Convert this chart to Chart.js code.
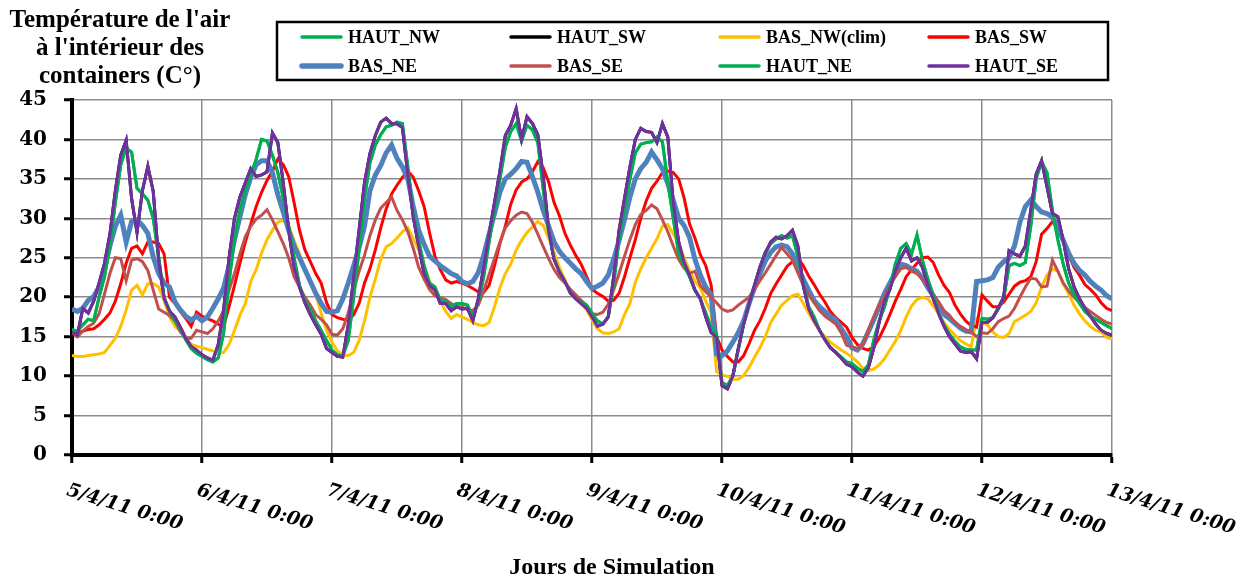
<!DOCTYPE html>
<html lang="fr">
<head>
<meta charset="utf-8">
<script src="https://cdn.jsdelivr.net/npm/chart.js@4.4.1/dist/chart.umd.min.js"></script>
<style>
html,body{margin:0;padding:0;background:#ffffff;}
#wrap{width:1250px;height:581px;}
</style>
</head>
<body>
<div id="wrap"><canvas id="c" width="1250" height="581"></canvas></div>
<script>
// ---- text ----
const titleLines = ["Température de l'air", "à l'intérieur des", "containers (C°)"];
const xTitle = "Jours de Simulation";
const tickLabels = ['5/4/11 0:00','6/4/11 0:00','7/4/11 0:00','8/4/11 0:00','9/4/11 0:00','10/4/11 0:00','11/4/11 0:00','12/4/11 0:00','13/4/11 0:00'];
const seriesNames = ['HAUT_NW','HAUT_SW','BAS_NW(clim)','BAS_SW','BAS_NE','BAS_SE','HAUT_NE','HAUT_SE'];

// ---- hourly values (°C), 5/4/11 0:00 -> 13/4/11 0:00 ----
const basNW = [
12.6,12.5,12.5,12.6,12.7,12.8,13.0,13.9,14.8,16.3,18.4,20.9,21.5,20.3,21.7,21.7,21.3,19.6,17.5,16.3,15.7,15.0,14.0,13.8,
13.6,13.4,13.2,13.0,13.0,14.0,15.8,17.7,19.2,22.0,23.5,25.6,27.3,28.5,29.5,29.8,29.0,27.2,25.5,23.5,21.8,20.3,18.0,15.8,
14.3,13.2,12.7,12.6,13.0,14.5,17.0,20.0,22.3,24.8,26.4,26.8,27.5,28.3,28.8,27.4,26.0,24.0,22.0,20.7,19.5,18.2,17.3,17.8,
17.5,17.2,16.8,16.5,16.4,16.8,18.8,21.2,23.0,24.2,26.0,27.2,28.2,28.9,29.6,29.1,27.5,25.7,23.8,22.2,20.7,19.8,19.2,18.4,
17.1,16.0,15.5,15.4,15.6,16.0,17.8,19.2,21.9,23.6,25.0,26.2,27.4,29.0,29.2,28.0,26.8,25.0,23.4,22.0,21.2,19.5,18.0,10.6,
10.1,10.0,9.6,9.6,10.1,11.1,12.4,13.6,15.0,16.8,17.9,19.0,19.6,20.2,20.4,19.2,18.0,16.8,15.8,15.0,14.3,13.8,13.3,12.9,
12.4,11.8,11.0,10.7,10.9,11.4,12.2,13.3,14.4,15.8,17.5,18.9,19.7,20.0,19.8,18.9,17.9,16.8,15.9,15.2,14.5,14.1,13.7,17.3,
16.9,16.5,15.6,15.0,14.9,15.4,16.9,17.3,17.7,18.2,19.3,21.3,22.8,23.6,23.3,21.7,20.4,19.0,17.9,17.0,16.3,15.8,15.6,14.9,14.7
];
const basSW = [
15.5,15.5,15.7,15.9,16.0,16.5,17.2,18.0,19.5,21.7,24.3,26.2,26.5,25.5,27.0,27.0,26.8,25.5,20.0,19.2,18.2,17.3,16.3,18.1,
17.6,17.3,17.0,16.6,16.3,18.8,21.5,24.3,27.0,29.3,31.5,33.3,34.8,36.0,37.5,36.8,35.3,32.0,28.5,26.0,24.5,23.0,21.8,19.3,
17.8,17.4,17.2,17.1,17.8,19.2,21.8,23.6,26.0,28.8,31.2,33.1,34.2,35.2,36.0,35.2,33.5,31.5,28.2,25.2,23.5,22.2,21.8,22.0,
21.8,21.5,21.1,20.7,20.6,21.5,24.0,26.8,29.0,31.8,33.6,34.6,35.0,35.9,37.2,36.4,34.6,32.0,30.3,28.1,26.6,25.3,24.2,22.6,
21.0,20.5,20.1,19.5,19.6,20.5,22.6,25.0,27.3,30.0,32.2,33.8,34.7,35.8,36.0,35.8,35.0,32.6,29.3,27.5,25.4,24.0,21.5,15.0,
13.3,12.5,11.8,11.8,12.6,14.1,15.8,17.0,18.6,20.5,21.7,22.8,23.9,24.5,25.0,24.0,22.7,21.6,20.4,19.4,18.2,17.4,16.8,16.2,
14.9,14.0,13.5,13.3,13.7,14.8,16.2,17.8,19.5,21.0,22.6,23.5,24.3,25.0,25.1,24.4,22.8,21.5,20.6,19.0,17.9,17.0,16.4,16.2,
20.3,19.5,18.8,18.8,19.4,20.4,21.4,21.9,22.1,22.6,24.5,28.0,28.7,29.6,28.6,27.0,25.3,23.8,22.8,21.6,21.0,20.3,19.3,18.6,18.3
];
const basNE = [
18.5,18.2,18.6,19.6,20.1,21.3,23.6,26.5,29.0,30.4,27.0,29.6,29.8,29.1,28.1,25.1,23.0,21.8,21.3,19.4,18.4,17.6,17.1,17.6,
17.0,17.5,18.6,19.8,21.2,24.0,27.3,30.2,33.0,35.2,36.8,37.3,37.3,35.8,33.0,30.8,28.5,26.5,25.0,23.5,22.0,20.5,19.2,18.2,
18.1,18.3,19.8,21.8,24.0,26.3,29.0,33.5,35.5,36.7,38.3,39.3,37.6,36.5,35.0,31.5,28.5,26.7,25.2,24.6,24.0,23.5,23.0,22.7,
22.0,21.7,22.0,23.1,25.3,28.0,30.6,33.3,35.0,35.6,36.3,37.2,37.1,35.3,33.3,31.0,29.0,27.0,25.8,25.0,24.3,23.6,23.0,22.0,
21.1,21.4,21.8,22.8,24.8,27.2,29.8,32.7,35.0,36.3,37.1,38.4,37.4,36.3,34.4,32.3,30.0,29.1,27.6,24.8,22.8,21.3,20.3,12.8,
12.6,13.2,14.3,15.5,17.0,19.2,21.2,23.0,24.6,25.7,26.4,26.6,26.4,25.5,23.9,22.3,20.9,19.6,18.8,18.2,17.6,17.1,16.0,15.0,
13.6,13.3,14.1,15.6,17.1,18.8,20.5,21.8,23.1,24.2,24.0,23.6,23.3,22.4,21.2,20.2,19.0,17.8,17.3,16.7,16.1,15.7,15.6,22.0,
22.1,22.2,22.5,23.8,24.5,25.0,26.5,29.5,31.5,32.3,31.5,30.8,30.6,30.2,28.8,27.2,25.6,24.3,23.4,22.8,22.0,21.4,20.9,20.2,19.8
];
const basSE = [
15.5,15.0,15.7,16.3,16.7,17.9,20.4,23.0,25.0,24.9,22.1,24.7,24.9,24.5,23.4,20.9,18.5,18.1,17.7,17.0,15.6,14.8,14.8,15.8,
15.6,15.4,16.0,17.0,18.3,20.9,23.0,25.5,27.7,29.0,29.9,30.4,31.1,29.8,28.3,26.8,25.0,22.6,21.3,20.0,19.0,17.8,17.2,16.5,
15.3,15.2,16.0,18.0,20.8,23.3,25.3,27.8,29.8,31.3,32.0,32.7,31.0,29.8,28.3,26.2,23.8,22.3,21.0,20.2,19.9,19.7,19.2,18.8,
18.8,18.4,18.3,19.0,20.8,22.9,24.9,27.0,28.8,29.7,30.4,30.8,30.6,29.5,28.0,26.4,24.9,23.5,22.5,21.8,21.0,20.3,19.6,19.0,
17.9,17.8,18.1,19.1,20.9,23.0,25.2,27.3,29.2,30.5,31.0,31.7,31.2,29.8,28.3,26.5,24.8,23.7,23.0,23.3,21.5,20.7,20.0,19.3,
18.5,18.2,18.4,19.0,19.5,20.0,21.0,22.1,23.1,24.2,25.3,26.3,25.5,24.7,23.1,21.5,20.3,19.3,18.3,17.6,17.1,16.6,15.5,13.9,
13.7,13.5,14.0,15.8,17.5,19.0,20.0,21.5,22.6,23.6,23.8,23.3,23.0,22.3,21.3,20.3,19.4,18.3,17.7,16.8,16.3,15.9,15.6,15.0,
15.5,15.4,16.0,16.9,17.3,17.6,18.6,20.0,21.3,22.4,22.3,21.3,21.4,24.7,23.3,21.8,20.8,20.0,19.3,18.7,18.2,17.7,17.2,16.8,16.6
];
const hautNE = [
15.9,15.7,16.5,17.2,17.0,20.0,22.6,26.5,32.0,36.8,38.9,38.4,33.8,33.1,32.3,30.0,25.1,20.0,18.3,17.0,16.0,14.6,13.5,12.9,
12.5,12.1,11.8,12.3,15.5,22.0,27.3,31.0,33.5,35.5,37.5,40.0,39.8,38.0,35.8,32.6,29.0,25.0,21.5,19.6,18.5,17.0,15.8,14.5,
13.3,12.7,12.6,14.5,20.0,26.0,32.5,37.0,39.3,40.6,41.6,41.8,42.2,42.0,36.5,30.6,27.2,24.0,21.8,21.3,19.6,19.5,18.8,19.2,
19.2,19.0,17.6,19.3,22.6,27.0,31.0,35.0,39.0,41.0,42.0,39.8,41.8,41.2,39.6,33.6,28.2,24.9,23.2,22.0,20.5,19.8,19.4,19.0,
18.0,17.0,16.6,17.5,21.7,27.3,31.3,35.0,38.3,39.4,39.6,39.7,40.3,39.7,34.5,30.0,25.5,24.0,22.6,20.9,19.8,18.0,16.2,15.3,
9.2,8.8,10.0,13.3,16.6,19.2,21.5,23.8,25.7,26.8,27.4,27.8,27.5,27.8,25.2,21.8,18.8,17.5,15.8,14.7,13.6,13.0,12.4,11.8,
11.6,11.0,10.6,11.4,14.5,17.0,18.8,21.2,24.2,26.2,26.8,25.5,27.9,24.7,22.3,20.3,18.0,16.5,15.3,14.4,13.7,13.4,13.3,13.3,
17.3,17.2,17.4,18.5,19.8,24.0,24.3,24.0,24.4,29.0,35.0,37.2,35.8,31.0,27.3,24.2,21.8,20.3,19.2,18.2,17.6,17.2,16.8,16.4,16.0
];
const hautSE = [
15.6,15.2,18.6,18.0,19.5,21.8,24.3,28.0,33.5,38.0,39.9,32.5,28.2,33.5,36.6,33.4,24.7,19.8,18.2,17.5,16.2,14.8,13.8,13.3,
12.7,12.3,12.0,14.0,18.5,25.0,30.0,32.7,34.5,36.3,35.3,35.5,35.9,40.8,39.6,34.5,28.5,23.8,21.3,19.3,17.8,16.5,15.3,13.5,
13.0,12.5,12.4,16.5,22.5,28.5,34.5,38.2,40.5,42.2,42.7,42.0,42.0,41.5,35.5,30.2,26.4,23.0,21.5,20.9,19.2,19.2,18.3,18.8,
18.5,18.6,17.0,19.8,23.8,28.0,32.0,36.0,40.5,41.8,43.9,40.0,42.9,42.0,40.6,35.3,28.5,24.8,23.2,22.0,20.6,19.8,19.2,18.6,
17.5,16.3,16.6,17.5,22.6,28.5,32.5,36.5,40.0,41.4,41.0,40.9,39.6,42.0,40.3,32.0,27.0,24.5,22.8,20.9,19.8,17.5,15.5,14.9,
8.8,8.4,10.0,13.5,16.6,19.2,21.5,23.8,25.6,27.0,27.6,27.4,27.8,28.5,26.5,21.5,18.5,17.0,15.8,14.6,13.6,13.0,12.3,11.5,
11.2,10.5,10.0,11.0,13.5,16.8,19.5,21.0,23.3,25.0,26.2,24.6,25.0,23.8,21.5,19.8,17.9,16.3,15.0,14.1,13.2,13.0,13.1,12.2,
16.8,16.8,17.4,18.6,20.0,25.9,25.5,25.2,26.5,31.0,35.6,37.3,34.0,30.6,30.2,27.2,23.6,21.3,19.8,18.6,17.6,16.6,15.8,15.4,15.2
];
// HAUT_NW coincides with HAUT_NE (same green); HAUT_SW (black) lies hidden under HAUT_SE
const hautNW = hautNE.slice();
const hautSW = hautSE.slice();

// ---- styles ----
const seriesValues = [hautNW, hautSW, basNW, basSW, basNE, basSE, hautNE, hautSE];
const seriesColors = ['#00B050','#000000','#FFC000','#FF0000','#4F81BD','#C0504D','#00B050','#7030A0'];
const seriesWidths = [3,3,3,3,5,3,3,3];
const FONT = "'Liberation Serif', 'DejaVu Serif', serif";
const NUMFONT = "'DejaVu Serif', serif";

const datasets = seriesNames.map((name, i) => ({
  label: name,
  data: seriesValues[i].map((v, h) => ({x: h, y: v})),
  borderColor: seriesColors[i],
  backgroundColor: seriesColors[i],
  borderWidth: seriesWidths[i],
  pointRadius: 0,
  tension: 0,
  fill: false,
  order: seriesNames.length - 1 - i
}));

const decor = {
  id: 'decor',
  afterDraw(chart) {
    const ctx = chart.ctx;
    const xs = chart.scales.x;
    ctx.save();
    ctx.fillStyle = '#000';
    // title (top-left)
    ctx.font = "bold 25px " + FONT;
    ctx.textAlign = 'center';
    ctx.textBaseline = 'alphabetic';
    titleLines.forEach((t, i) => ctx.fillText(t, 120, 27 + i * 28));
    // rotated day labels
    ctx.font = "italic bold 19px " + NUMFONT;
    ctx.textAlign = 'left';
    ctx.textBaseline = 'top';
    tickLabels.forEach((t, i) => {
      const px = xs.getPixelForValue(i * 24);
      ctx.save();
      ctx.translate(px - 2, 481);
      ctx.rotate(17 * Math.PI / 180);
      ctx.fillText(t, 0, 0);
      ctx.restore();
    });
    // x axis title
    ctx.font = "bold 24px " + FONT;
    ctx.textAlign = 'center';
    ctx.textBaseline = 'alphabetic';
    ctx.fillText(xTitle, 612, 574);
    // legend box
    ctx.lineWidth = 2.5;
    ctx.strokeStyle = '#000';
    ctx.strokeRect(277, 22, 831, 58);
    ctx.font = "bold 18px " + FONT;
    ctx.textAlign = 'left';
    ctx.textBaseline = 'middle';
    chart.data.datasets.forEach((ds, i) => {
      const col = i % 4, row = Math.floor(i / 4);
      const x0 = 302 + col * 209;
      const y = 37 + row * 29;
      ctx.beginPath();
      ctx.strokeStyle = ds.borderColor;
      ctx.lineWidth = ds.borderWidth + 0.5;
      ctx.lineCap = 'round';
      ctx.moveTo(x0, y);
      ctx.lineTo(x0 + 39, y);
      ctx.stroke();
      ctx.fillStyle = '#000';
      ctx.fillText(ds.label, x0 + 46, y + 1);
    });
    ctx.restore();
  }
};

new Chart(document.getElementById('c'), {
  type: 'line',
  data: { datasets },
  options: {
    responsive: false,
    animation: false,
    devicePixelRatio: 1,
    layout: { padding: { top: 100, right: 138, bottom: 0, left: 0 } },
    plugins: { legend: { display: false }, tooltip: { enabled: false }, title: { display: false } },
    scales: {
      x: {
        type: 'linear', min: 0, max: 192,
        ticks: { stepSize: 24, display: false },
        grid: { color: '#8c8c8c', lineWidth: 1.5, tickLength: 8, tickColor: '#000', tickWidth: 3 },
        border: { color: '#000', width: 4 },
        afterFit(s) { s.height = 126; }
      },
      y: {
        min: 0, max: 45,
        ticks: { stepSize: 5, color: '#000', padding: 17, font: { family: NUMFONT, weight: 'bold', size: 20 } },
        grid: { color: '#8c8c8c', lineWidth: 1.5, tickLength: 8, tickColor: '#000', tickWidth: 3 },
        border: { color: '#000', width: 4 },
        afterFit(s) { s.width = 72; }
      }
    }
  },
  plugins: [decor]
});
</script>
</body>
</html>
